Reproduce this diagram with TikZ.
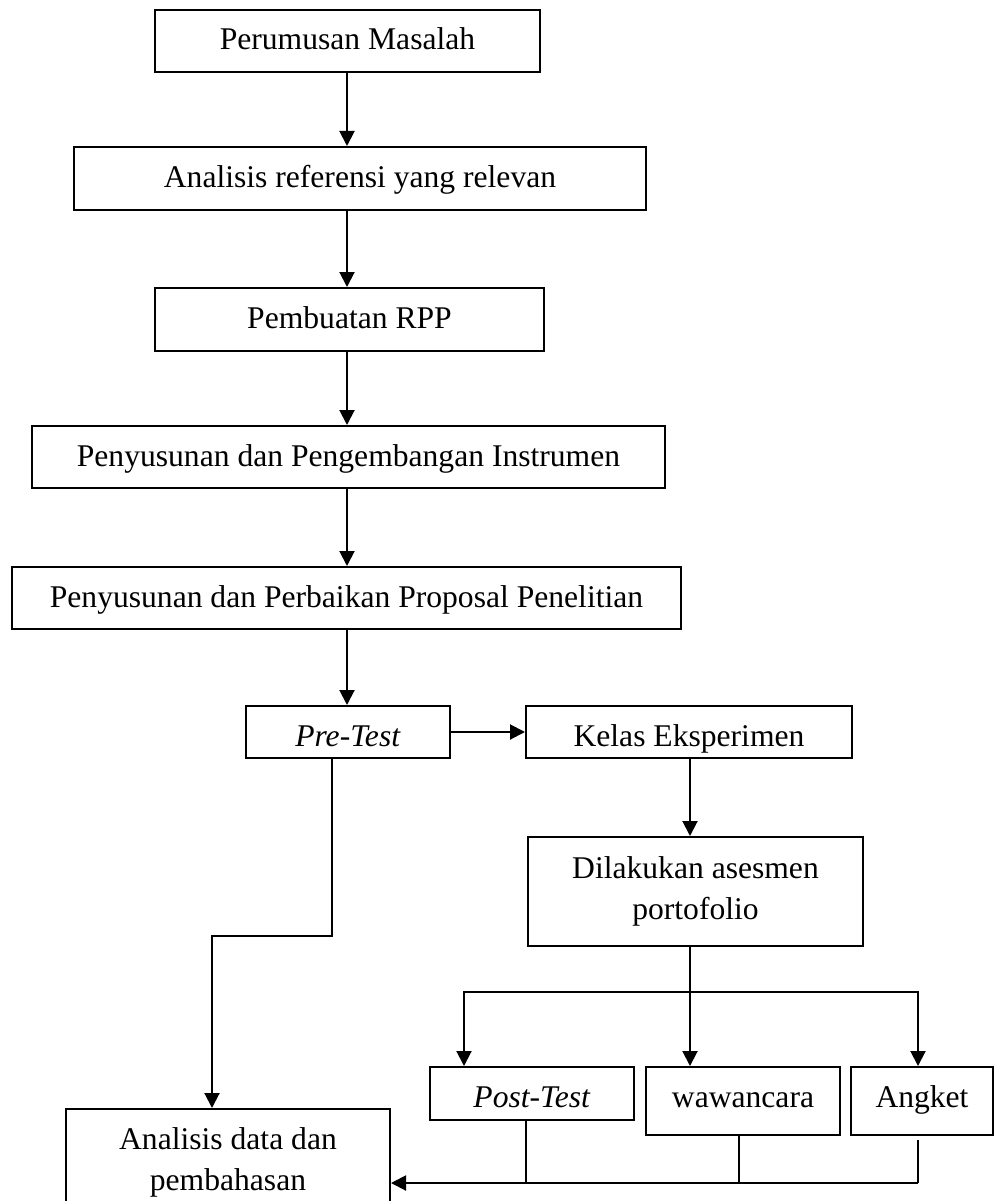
\documentclass[tikz,border=0pt]{standalone}
\usepackage{fontspec}
\setmainfont{Liberation Serif}
\usetikzlibrary{arrows.meta}
\begin{document}
\begin{tikzpicture}[x=1pt,y=-1pt,
  box/.style={draw, line width=2pt, inner sep=0pt, align=center,
    font=\fontsize{31.6}{41}\selectfont},
  sl/.style={text height=#1, text depth=4pt},
  arr/.style={line width=2pt, -{Triangle[length=15pt,width=15pt]}},
  ln/.style={line width=2pt}]
\useasboundingbox (0,0) rectangle (995,1201);
\clip (0,0) rectangle (995,1201);
% nodes
\node[box, sl=22pt, minimum width=385pt, minimum height=62pt] (b1) at (347.5,41) {Perumusan Masalah};
\node[box, sl=22pt, minimum width=572pt, minimum height=63pt] (b2) at (360,178.5) {Analisis referensi yang relevan};
\node[box, sl=22pt, minimum width=389pt, minimum height=63pt] (b3) at (349.5,319.5) {Pembuatan RPP};
\node[box, sl=22pt, minimum width=633pt, minimum height=62pt] (b4) at (348.5,457) {Penyusunan dan Pengembangan Instrumen};
\node[box, sl=22pt, minimum width=669pt, minimum height=62pt] (b5) at (346.5,598) {Penyusunan dan Perbaikan Proposal Penelitian};
\node[box, sl=32pt, minimum width=204pt, minimum height=52pt] (pre) at (348,732) {\textit{Pre-Test}};
\node[box, sl=32pt, minimum width=326pt, minimum height=52pt] (kelas) at (689,732) {Kelas Eksperimen};
\node[box, minimum width=335pt, minimum height=109pt] (dil) at (695.5,891.5) {Dilakukan asesmen\\portofolio};
\node[box, sl=31pt, minimum width=204pt, minimum height=53pt] (post) at (532,1093.5) {\textit{Post-Test}};
\node[box, sl=16pt, minimum width=194pt, minimum height=68pt] (waw) at (743,1101) {wawancara};
\node[box, sl=16pt, minimum width=142pt, minimum height=68pt] (ang) at (922,1101) {Angket};
\node[box, minimum width=324pt, minimum height=106pt] (ana) at (228,1162) {Analisis data dan\\pembahasan};
% coordinates
\coordinate (x1) at (347,0);
\coordinate (kx) at (690,0);
\coordinate (bl) at (464,992);
\coordinate (bm) at (690,992);
\coordinate (brr) at (918,992);
\coordinate (pd) at (332,936);
\coordinate (pl) at (212,936);
\coordinate (bot) at (918,1183);
\coordinate (px) at (526,0);
\coordinate (wx) at (739,0);
% connectors
\draw[arr] (x1 |- b1.south) -- (x1 |- b2.north);
\draw[arr] (x1 |- b2.south) -- (x1 |- b3.north);
\draw[arr] (x1 |- b3.south) -- (x1 |- b4.north);
\draw[arr] (x1 |- b4.south) -- (x1 |- b5.north);
\draw[arr] (x1 |- b5.south) -- (x1 |- pre.north);
\draw[arr] (pre.east) -- (kelas.west);
\draw[arr] (kx |- kelas.south) -- (kx |- dil.north);
\draw[ln] (kx |- dil.south) -- (bm);
\draw[ln, line cap=rect] (bl) -- (brr);
\draw[arr] (bl) -- (bl |- post.north);
\draw[arr] (bm) -- (bm |- waw.north);
\draw[arr] (brr) -- (brr |- ang.north);
\draw[arr] (pd |- pre.south) -- (pd) -- (pl) -- (pl |- ana.north);
\draw[ln] (px |- post.south) -- (px |- bot);
\draw[ln] (wx |- waw.south) -- (wx |- bot);
\draw[ln] ([yshift=-4pt]ang.south -| bot) -- (bot);
\draw[arr] (bot) -- (bot -| ana.east);
\end{tikzpicture}
\end{document}
